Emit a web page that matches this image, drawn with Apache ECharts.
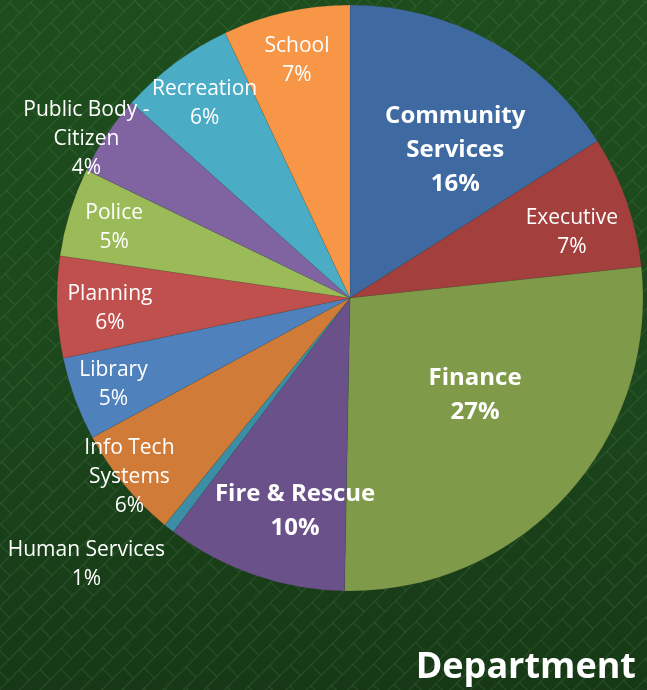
<!DOCTYPE html>
<html>
<head>
<meta charset="utf-8">
<script src="https://cdn.jsdelivr.net/npm/echarts@6/dist/echarts.min.js"></script>
<style>
html,body{margin:0;padding:0;background:#1c461c;}
#chart{width:647px;height:690px;}
</style>
</head>
<body>
<div id="chart"></div>
<script>
// ---- data ----
var categories = ['Community Services','Executive','Finance','Fire & Rescue','Human Services','Info Tech Systems','Library','Planning','Police','Public Body - Citizen','Recreation','School'];
var labelNames = ['Community\nServices','Executive','Finance','Fire & Rescue','Human Services','Info Tech\nSystems','Library','Planning','Police','Public Body -\nCitizen','Recreation','School'];
var values = [16, 7.3, 27, 10, 0.6, 6.2, 4.6, 5.6, 4.9, 4.4, 6.4, 7];
var colors = ['#3f6aa1','#a3403e','#7f9b4a','#6a5189','#3c8ea6','#d07c38','#4f81bd','#c0504d','#9bbb59','#8064a2','#4bacc6','#f79646'];
var boldLabels = ['Community Services','Finance','Fire & Rescue'];
// label placement style (radial fraction and angle shift, degrees)
var labelRho = [0.62,0.79,0.54,0.75,1.28,0.97,0.86,0.82,0.84,1.05,0.83,0.83];
var labelShift = [6.6,2.7,-4.7,-4.6,6.5,0.5,0,-0.6,-0.5,-2.8,0,0];

var CX = 350, CY = 298, R = 293;
var W = 647, H = 690;

// background: dark green with diagonal brick pattern
var bg = document.createElement('canvas');
bg.width = W; bg.height = H;
(function(){
  var c = bg.getContext('2d');
  var g = c.createLinearGradient(0,0,0,H);
  g.addColorStop(0,'#1d4d1d');
  g.addColorStop(0.55,'#1c471c');
  g.addColorStop(1,'#163816');
  c.fillStyle = g; c.fillRect(0,0,W,H);
  c.save();
  c.translate(W/2,H/2);
  c.rotate(-Math.PI/4);
  c.strokeStyle = 'rgba(120,170,115,0.14)';
  c.lineWidth = 1.6;
  var h = 14.5, L = 30, ext = 700;
  for (var row = -60; row <= 60; row++) {
    var v = row*h;
    c.beginPath(); c.moveTo(-ext,v); c.lineTo(ext,v); c.stroke();
    var off = (row % 2 === 0) ? 0 : L/2;
    for (var u = -ext + off; u <= ext; u += L) {
      c.beginPath(); c.moveTo(u,v); c.lineTo(u,v+h); c.stroke();
    }
  }
  c.restore();
})();

var total = values.reduce(function(a,b){return a+b;},0);
var mids = [];
(function(){
  var cum = 0;
  for (var i=0;i<values.length;i++){ mids.push((cum + values[i]/2)/total*360); cum += values[i]; }
})();

var data = categories.map(function(name,i){
  var bold = boldLabels.indexOf(name) >= 0;
  return {
    name: name,
    value: values[i],
    itemStyle: {color: colors[i]},
    label: bold ? {fontWeight:'bold', fontSize:24, lineHeight:34} : {}
  };
});

var chart = echarts.init(document.getElementById('chart'), null, {renderer:'canvas'});
chart.setOption({
  backgroundColor: 'transparent',
  animation: false,
  graphic: [{
    type: 'image', z: -10, left: 0, top: 0,
    style: {image: bg, x:0, y:0, width: W, height: H}
  }],
  title: {
    text: 'Department',
    right: 6, bottom: -1,
    textStyle: {color:'#ffffff', fontFamily:'Open Sans', fontWeight:'bold', fontSize:36}
  },
  series: [{
    type: 'pie',
    center: [CX, CY],
    radius: [0, R],
    startAngle: 90,
    clockwise: true,
    avoidLabelOverlap: false,
    itemStyle: {borderColor:'rgba(40,40,40,0.3)', borderWidth:0.4},
    label: {
      show: true,
      position: 'inside',
      color: '#ffffff',
      fontFamily: 'Open Sans',
      fontSize: 21,
      lineHeight: 29,
      align: 'center',
      formatter: function(p){
        return labelNames[p.dataIndex] + '\n' + Math.round(p.value/total*100) + '%';
      }
    },
    labelLine: {show:false},
    labelLayout: function(p){
      var i = p.dataIndex;
      var a = (mids[i] + labelShift[i]) * Math.PI/180;
      var rr = labelRho[i]*R;
      return { x: CX + rr*Math.sin(a), y: CY - rr*Math.cos(a), align:'center', verticalAlign:'middle' };
    },
    emphasis: {disabled:true},
    data: data
  }]
});
</script>
</body>
</html>
